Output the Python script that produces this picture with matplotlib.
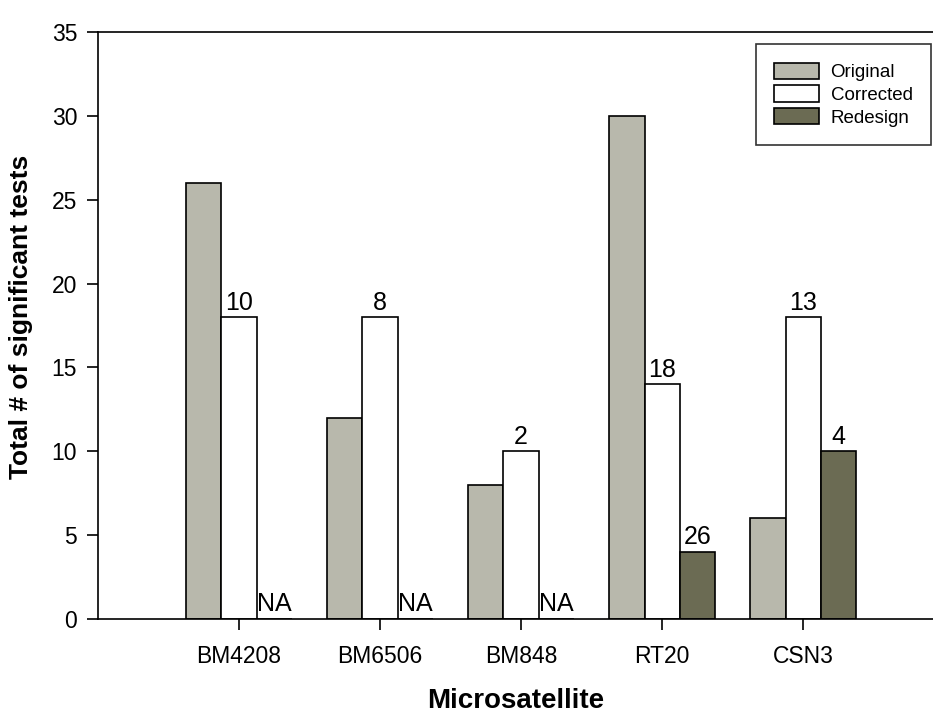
import matplotlib.pyplot as plt
import numpy as np

plt.rcParams['font.family'] = ['Liberation Sans', 'DejaVu Sans']

loci = ['BM4208', 'BM6506', 'BM848', 'RT20', 'CSN3']
original = [26, 12, 8, 30, 6]
corrected = [18, 18, 10, 14, 18]
redesign = [0, 0, 0, 4, 10]
corrected_notes = ['10', '8', '2', '18', '13']
redesign_notes = ['NA', 'NA', 'NA', '26', '4']

fig = plt.figure(figsize=(9.33, 7.13), dpi=100)
ax = fig.add_axes([0.105, 0.132, 0.895, 0.823])

x = np.arange(1, len(loci) + 1)
w = 0.25
ax.bar(x - w, original, w, color='#b8b8ac', edgecolor='black', linewidth=1.2, label='Original')
ax.bar(x, corrected, w, color='white', edgecolor='black', linewidth=1.2, label='Corrected')
ax.bar(x + w, redesign, w, color='#6b6b53', edgecolor='black', linewidth=1.2, label='Redesign')

for xi, h, s in zip(x, corrected, corrected_notes):
    ax.text(xi, h + 0.15, s, ha='center', va='bottom', fontsize=18)
for xi, h, s in zip(x + w, redesign, redesign_notes):
    ax.text(xi, h + 0.15, s, ha='center', va='bottom', fontsize=18)

ax.set_xlim(0, 5.92)
ax.set_ylim(0, 35)
ax.set_yticks(range(0, 36, 5))
ax.set_xticks(x)
ax.set_xticklabels(loci)
ax.tick_params(direction='out', length=8, width=1.2, labelsize=16.5)
ax.tick_params(axis='x', pad=11)
ax.tick_params(axis='y', pad=7)
ax.spines['right'].set_visible(False)
for s in ['left', 'bottom', 'top']:
    ax.spines[s].set_linewidth(1.2)

ax.set_xlabel('Microsatellite', fontsize=20, fontweight='bold', labelpad=14)
ax.set_ylabel('Total # of significant tests', fontsize=19, fontweight='bold')
ax.yaxis.set_label_coords(-0.078, 0.515)

leg = ax.legend(loc='upper right', bbox_to_anchor=(0.998, 0.98), fontsize=13.5,
                frameon=True, fancybox=False, edgecolor='black',
                handlelength=2.4, handleheight=1.0, labelspacing=0.2,
                borderpad=1.0, handletextpad=0.6, borderaxespad=0)
leg.get_frame().set_linewidth(1.2)

fig.savefig('out.png', dpi=100)
